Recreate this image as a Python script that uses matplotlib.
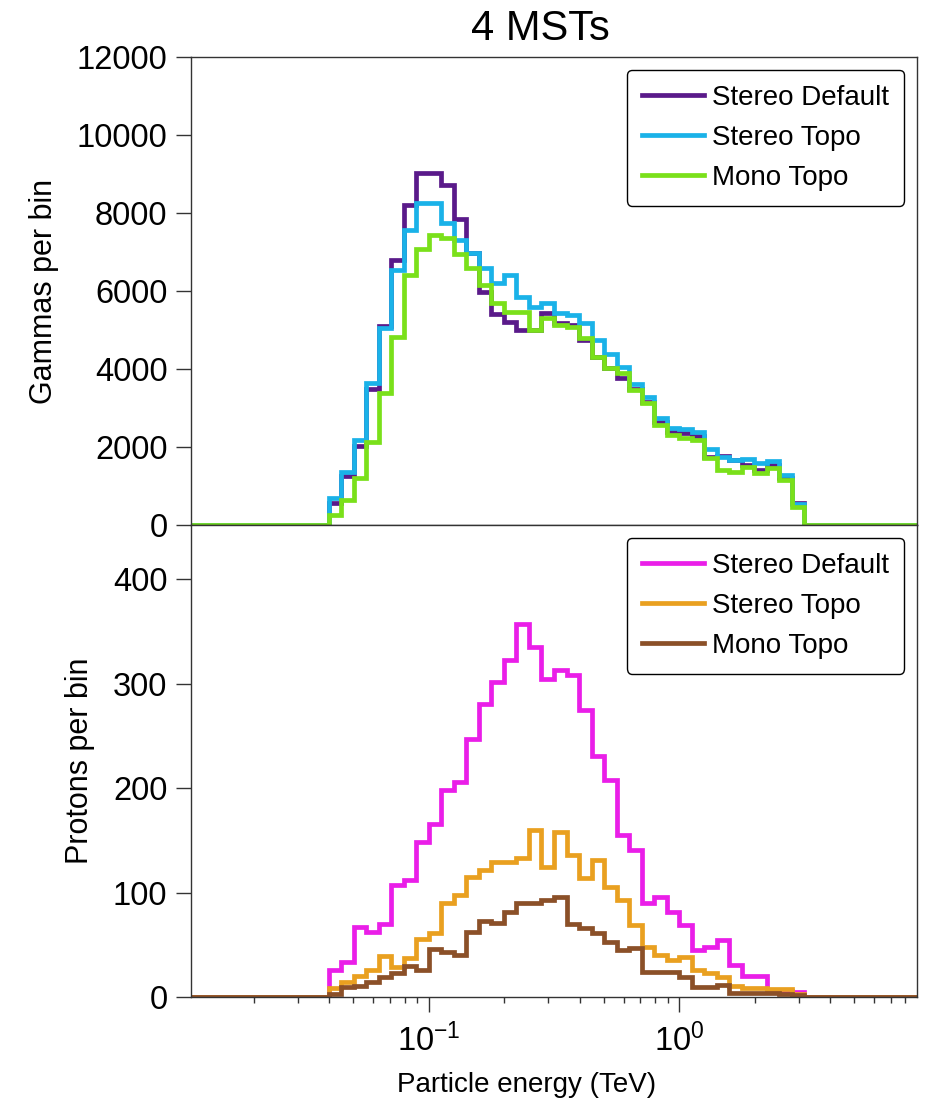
import numpy as np
import matplotlib
matplotlib.use("Agg")
import matplotlib.pyplot as plt
from matplotlib.ticker import LogLocator, NullFormatter, FixedLocator

plt.rcParams['font.family'] = ['Liberation Sans', 'DejaVu Sans']
plt.rcParams['mathtext.fontset'] = 'custom'
plt.rcParams['mathtext.rm'] = 'Liberation Sans'
plt.rcParams['mathtext.it'] = 'Liberation Sans:italic'
plt.rcParams['mathtext.default'] = 'regular'

# Bin edges: 20 log bins per decade, 10^-1.95 .. 10^0.95 TeV
log_edges = np.round(np.arange(-1.95, 0.9501, 0.05), 4)
edges = 10 ** log_edges
n_lead_zero = 11   # empty bins below 10^-1.4 TeV
n_trail_zero = 9   # empty bins above 10^0.5 TeV

# Gammas per bin (non-empty bins, 10^-1.4 .. 10^0.5 TeV)
gam_stereo_default = [560, 1260, 2030, 3500, 5110, 6800, 8200, 9020, 9020, 8720,
                      7840, 6970, 5980, 5420, 5200, 5000, 5000, 5430, 5170, 5130,
                      4740, 4320, 4020, 3760, 3500, 3160, 2650, 2390, 2350, 2270,
                      1750, 1770, 1670, 1540, 1410, 1540, 1200, 556]
gam_stereo_topo = [684, 1350, 2180, 3630, 5060, 6540, 7560, 8250, 8250, 7740,
                   7310, 6970, 6580, 6200, 6400, 5850, 5600, 5680, 5430, 5380,
                   5190, 4740, 4380, 4060, 3610, 3290, 2735, 2500, 2460, 2390,
                   1940, 1750, 1670, 1690, 1580, 1650, 1280, 540]
gam_mono_topo = [256, 640, 1200, 2136, 3376, 4830, 6410, 7070, 7436, 7350,
                 6950, 6580, 6150, 5684, 5470, 5470, 5000, 5300, 5130, 5085,
                 4786, 4316, 4017, 3889, 3461, 3120, 2564, 2308, 2222, 2179,
                 1709, 1410, 1367, 1495, 1325, 1453, 1154, 470]

# Protons per bin
pro_stereo_default = [25.8, 33.8, 67, 62, 69.5, 107, 112, 148.6, 166, 198,
                      206, 247.5, 281, 301.7, 322.5, 357.6, 335, 305, 313, 308,
                      274.6, 231, 208, 155, 140.7, 89.7, 96, 81.6, 68.9, 45,
                      48.1, 54.5, 30.6, 20, 20, 5.5, 5.5, 5]
pro_stereo_topo = [8.3, 14.7, 20, 26, 39.5, 28.5, 37, 56, 61.3, 89.7,
                   97.6, 115, 121.5, 129, 129.5, 132.7, 159.8, 124.7, 158.2, 135.9,
                   114, 131, 105, 92.8, 68.9, 48.1, 40.2, 35.4, 38.6, 25.8,
                   22.7, 19.5, 10.5, 9, 9, 7.5, 7.5, 3]
pro_mono_topo = [3.2, 9.9, 10.2, 14.7, 18.7, 22.6, 29.8, 26.2, 46, 43.4,
                 40.2, 61.8, 72.8, 70.5, 81.6, 89.7, 89.7, 92.8, 96, 70,
                 65.7, 61, 52.9, 45, 46.6, 24, 24, 24, 19.5, 9.9,
                 9.9, 11.5, 3.5, 3.5, 3.5, 3.5, 3, 2]

labels = ["Stereo Default", "Stereo Topo", "Mono Topo"]
gam_colors = ["#5a1a8a", "#1ab2e8", "#7ae01a"]
pro_colors = ["#ea1ee8", "#e9a020", "#8b5028"]


def full(vals):
    return np.concatenate([np.zeros(n_lead_zero), np.asarray(vals, float),
                           np.zeros(n_trail_zero)])


fig = plt.figure(figsize=(9.28, 11.04), dpi=100)
L, R = 191 / 928, 917 / 928
y_mid = 1 - 525 / 1104
y_top = 1 - 57 / 1104
y_bot = 1 - 997 / 1104
ax1 = fig.add_axes([L, y_mid, R - L, y_top - y_mid])
ax2 = fig.add_axes([L, y_bot, R - L, y_mid - y_bot], sharex=ax1)

spine_col = "#333333"
for ax, series, cols in [
    (ax1, [gam_stereo_default, gam_stereo_topo, gam_mono_topo], gam_colors),
    (ax2, [pro_stereo_default, pro_stereo_topo, pro_mono_topo], pro_colors),
]:
    for vals, c, lab in zip(series, cols, labels):
        v = full(vals)
        ax.step(edges, np.append(v, v[-1]), where="post", color=c, lw=3.4,
                label=lab, solid_joinstyle="miter")
    for s in ax.spines.values():
        s.set_color(spine_col)
        s.set_linewidth(1.0)
    ax.tick_params(axis="y", which="major", direction="out", length=10.5,
                   width=1.0, color=spine_col, labelsize=23.5, pad=6.5)
    ax.tick_params(axis="x", which="major", direction="out", length=10.5,
                   width=1.0, color=spine_col, labelsize=23.5, pad=9)
    ax.tick_params(axis="both", which="minor", direction="out", length=4,
                   width=1.0, color=spine_col)
    leg = ax.legend(loc="upper right", fontsize=20, frameon=True, fancybox=True,
                    edgecolor="black", framealpha=1.0, handlelength=2.23,
                    handletextpad=0.3, labelspacing=0.5, borderpad=0.55,
                    borderaxespad=0.45)
    leg.get_frame().set_linewidth(1.0)

ax1.set_xscale("log")
ax1.set_xlim(edges[0], edges[-1])
ax1.xaxis.set_major_locator(LogLocator(base=10))
ax1.xaxis.set_minor_locator(LogLocator(base=10, subs=np.arange(2, 10)))
ax2.xaxis.set_minor_formatter(NullFormatter())

ax1.set_ylim(0, 12000)
ax1.yaxis.set_major_locator(FixedLocator([0, 2000, 4000, 6000, 8000, 10000, 12000]))
ax1.tick_params(axis="x", which="both", bottom=False, labelbottom=False)

ax2.set_ylim(0, 452)
ax2.yaxis.set_major_locator(FixedLocator([0, 100, 200, 300, 400]))

ax1.set_ylabel("Gammas per bin", fontsize=22, labelpad=13)
ax2.set_ylabel("Protons per bin", fontsize=22, labelpad=13)
ax2.set_xlabel("Particle energy (TeV)", fontsize=20, labelpad=10,
               x=(527 - 191) / 726)
ax1.set_title("4 MSTs", fontsize=30, pad=12, x=(540 - 191) / 726)

fig.savefig("out.png", dpi=100)
